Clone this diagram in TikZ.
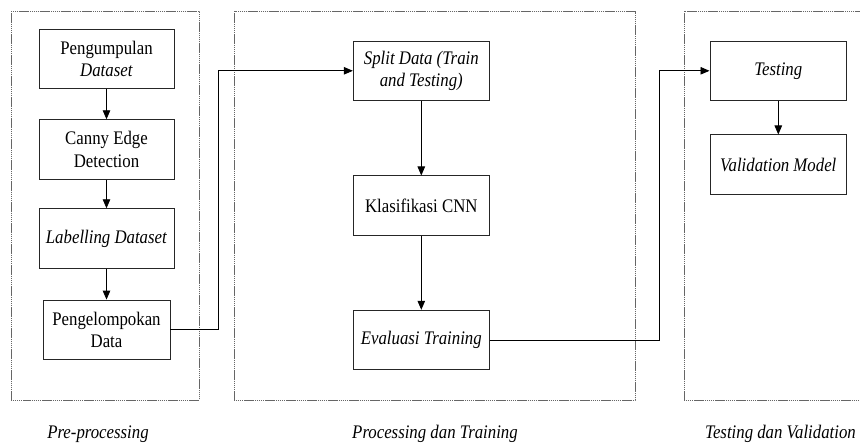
\documentclass[tikz,border=0pt]{standalone}
\usepackage{fontspec}
\setmainfont{Liberation Serif}[FakeStretch=0.875]
\usetikzlibrary{arrows.meta}
\begin{document}
\begin{tikzpicture}[x=1pt,y=-1pt,
  font=\fontsize{19.2}{22.4}\selectfont,
  proc/.style={draw=black!85, line width=0.9pt, align=center, inner sep=2pt, minimum width=136pt, minimum height=59.5pt},
  grp/.style={draw=black!60, line width=0.7pt, dash pattern=on 1.5pt off 0.6pt},
  arr/.style={line width=0.9pt, -{Triangle[length=9pt,width=7.5pt]}},
  conn/.style={line width=0.9pt},
  lbl/.style={anchor=base, font=\fontsize{19.2}{22.4}\selectfont\itshape, inner sep=0pt}]
\useasboundingbox (0,0) rectangle (860,443);
\begin{scope}
\clip (0,0) rectangle (860,443);
\draw[grp] (11,11) rectangle (199,400);
\draw[grp] (234,11) rectangle (635,400);
\draw[grp] (684,11) rectangle (880,400);
\end{scope}

\node[proc, minimum width=135pt] (peng) at (106.5,58.8) {Pengumpulan\\\textit{Dataset}};
\node[proc, minimum width=135pt] (canny) at (106.5,149.5) {Canny Edge\\Detection};
\node[proc, minimum width=135pt] (label) at (106.5,238.5) {\textit{Labelling Dataset}};
\node[proc, minimum width=127pt] (kel) at (106.5,329.8) {Pengelompokan\\Data};

\node[proc] (split) at (421.3,70.8) {\textit{Split Data (Train}\\\textit{and Testing)}};
\node[proc] (klas) at (421.3,205.7) {Klasifikasi CNN};
\node[proc] (eval) at (421.3,340) {\textit{Evaluasi Training}};

\node[proc, minimum width=136.7pt] (test) at (778.3,70.8) {\textit{Testing}};
\node[proc] (valid) at (778.3,164.7) {\textit{Validation Model}};

\draw[arr] (peng) -- (canny);
\draw[arr] (canny) -- (label);
\draw[arr] (label) -- (kel);
\draw[arr] (split) -- (klas);
\draw[arr] (klas) -- (eval);
\draw[arr] (test) -- (valid);

\coordinate (c1) at (218,0);
\coordinate (c2) at (659.3,0);
\draw[conn] (kel.east) -| (c1 |- split.west) coordinate (k1);
\draw[arr] (k1) -- (split.west);
\draw[conn] (eval.east) -| (c2 |- test.west) coordinate (k2);
\draw[arr] (k2) -- (test.west);

\node[lbl] (l1) at (98,438.8) {Pre-processing};
\node[lbl] (l2) at (435,438.8) {Processing dan Training};
\node[lbl] (l3) at (780.5,438.8) {Testing dan Validation};
\end{tikzpicture}
\end{document}
